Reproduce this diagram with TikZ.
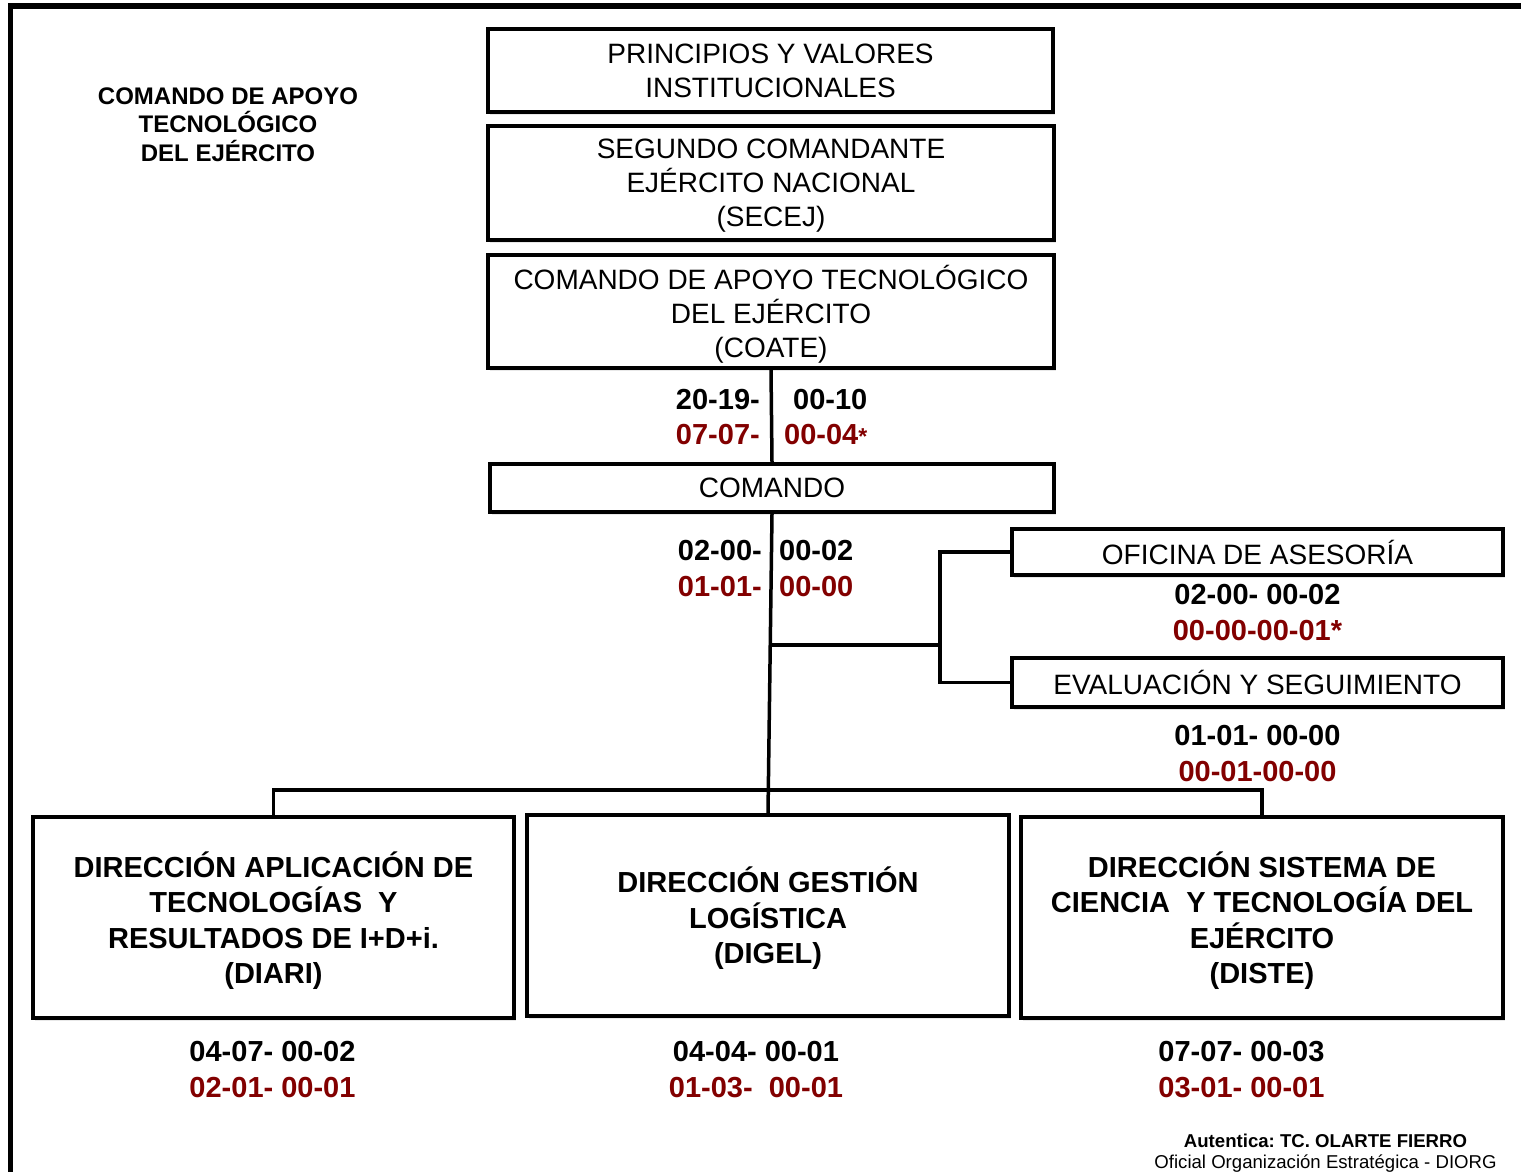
\documentclass[tikz,border=0pt]{standalone}
\usepackage{fontspec}
\setmainfont{Liberation Sans}
\usetikzlibrary{positioning,shadows}
\definecolor{rojo}{RGB}{130,0,0}
\frenchspacing

\begin{document}
\begin{tikzpicture}[x=1pt,y=-1pt,node distance=35.5pt,
	caja/.style={draw, line width=4pt, inner sep=0pt, align=center, fill=white, text depth=0pt,
		drop shadow={shadow xshift=2pt,shadow yshift=-3pt,opacity=0.18},
		font=\fontsize{28}{34}\selectfont},
	dir/.style={caja, font=\bfseries\fontsize{29}{35.5}\selectfont},
	num/.style={inner sep=0pt, font=\bfseries\fontsize{29}{35}\selectfont},
	numrojo/.style={num, text=rojo},
	linea/.style={line width=3.5pt}]
	\useasboundingbox (0,0) rectangle (1521,1172);

	% marco
	\draw[line width=5.5pt] (10.5,1172) -- (10.5,6) -- (1521,6);

	\node[align=center, font=\bfseries\fontsize{24}{28.5}\selectfont] (titulo) at (228,124.5) {COMANDO DE APOYO\\TECNOLÓGICO\\DEL EJÉRCITO};

	\node[caja, minimum width=565pt, minimum height=83pt] (principios) at (770.5,70.5) {PRINCIPIOS Y VALORES\\INSTITUCIONALES};
	\node[caja, minimum width=566pt, minimum height=114pt] (secej) at (771,183) {SEGUNDO COMANDANTE\\EJÉRCITO NACIONAL\\(SECEJ)};
	\node[caja, minimum width=566pt, minimum height=113pt] (coate) at (771,311.5) {COMANDO DE APOYO TECNOLÓGICO\\DEL EJÉRCITO\\(COATE)};
	\node[caja, minimum width=564pt, minimum height=48pt] (comando) at (772,488) {COMANDO};
	\node[caja, minimum width=491pt, minimum height=46pt] (oficina) at (1257.5,552) {OFICINA DE ASESORÍA};
	\node[caja, minimum width=491pt, minimum height=49pt] (evaluacion) at (1257.5,682.5) {EVALUACIÓN Y SEGUIMIENTO};

	\node[dir, minimum width=481pt, minimum height=201pt] (diari) at (273.5,917.5) {DIRECCIÓN APLICACIÓN DE\\TECNOLOGÍAS~ Y\\RESULTADOS DE I+D+i.\\(DIARI)};
	\node[dir, minimum width=482pt, minimum height=201pt] (digel) at (768,915.5) {DIRECCIÓN GESTIÓN\\LOGÍSTICA\\(DIGEL)};
	\node[dir, minimum width=482pt, minimum height=201pt] (diste) at (1262,917.5) {DIRECCIÓN SISTEMA DE\\CIENCIA~ Y TECNOLOGÍA DEL\\EJÉRCITO\\(DISTE)};

	% cifras
	\node[num, anchor=east] (coate-a) at (760,400) {20-19-};
	\node[num, anchor=west] (coate-b) at (793,400) {00-10};
	\node[numrojo, anchor=east] (coate-c) at (760,435) {07-07-};
	\node[numrojo, anchor=west] (coate-d) at (784,435) {00-04{\fontsize{23}{23}\selectfont*}};

	\node[num, anchor=east] (comando-a) at (762,551) {02-00-};
	\node[num, anchor=west] (comando-b) at (779,551) {00-02};
	\node[numrojo, anchor=east] (comando-c) at (762,587) {01-01-};
	\node[numrojo, anchor=west] (comando-d) at (779,587) {00-00};

	\node[num] (oficina-a) at (1257.5,595) {02-00- 00-02};
	\node[numrojo] (oficina-b) [below of = oficina-a] {00-00-00-01*};
	\node[num] (evaluacion-a) at (1257.5,736) {01-01- 00-00};
	\node[numrojo] (evaluacion-b) [below of = evaluacion-a] {00-01-00-00};

	\node[num] (diari-a) at (272.5,1052) {04-07- 00-02};
	\node[numrojo] (diari-b) [below of = diari-a] {02-01- 00-01};
	\node[num] (digel-a) at (756,1052) {04-04- 00-01};
	\node[numrojo] (digel-b) [below of = digel-a] {01-03-~ 00-01};
	\node[num] (diste-a) at (1241.5,1052) {07-07- 00-03};
	\node[numrojo] (diste-b) [below of = diste-a] {03-01- 00-01};

	\node[anchor=base, inner sep=0pt, font=\bfseries\fontsize{18.6}{21}\selectfont] (firma) at (1325.5,1147) {Autentica: TC. OLARTE FIERRO};
	\node[anchor=base, inner sep=0pt, font=\fontsize{18.6}{21}\selectfont] (cargo) at (1325.5,1168) {Oficial Organización Estratégica - DIORG};

	% lineas
	\coordinate (derivacion) at (770.5,645);
	\coordinate (horquilla) at (940,645);
	\draw[linea] (coate.south) -- (comando.north);
	\draw[linea] (comando.south) -- (digel.north);
	\draw[linea] (derivacion) -- (horquilla);
	\draw[linea] (oficina.west) -| (horquilla) |- (evaluacion.west);
	\draw[linea] (diari.north) -- ++(0,-25) -| (diste.north);
\end{tikzpicture}
\end{document}
